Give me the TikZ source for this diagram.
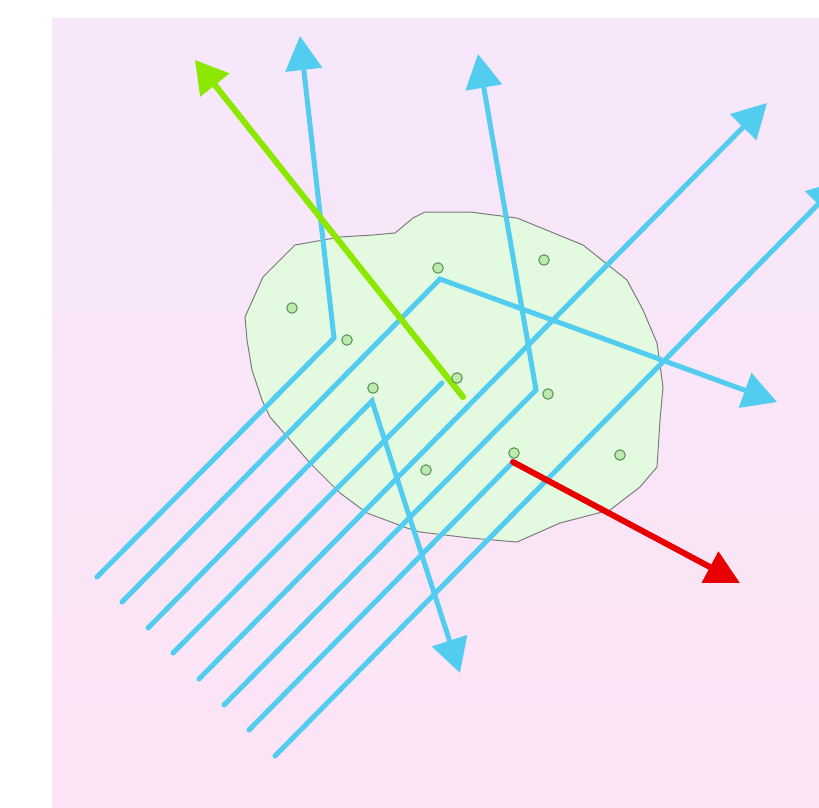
\documentclass[tikz,border=0pt]{standalone}
\usetikzlibrary{arrows.meta}
\definecolor{ray}{RGB}{82,205,240}
\definecolor{lime}{RGB}{140,232,0}
\definecolor{redray}{RGB}{232,0,0}
\definecolor{blobfill}{RGB}{228,250,224}
\definecolor{blobline}{RGB}{125,125,125}
\definecolor{bgtop}{RGB}{246,231,250}
\definecolor{bgbot}{RGB}{252,228,246}
\definecolor{dotfill}{RGB}{190,234,176}
\definecolor{dotline}{RGB}{80,145,80}
\begin{document}
\begin{tikzpicture}[x=1pt,y=-1pt,
  rayline/.style={draw=ray,line width=5pt,line cap=round},
  rayarrow/.style={rayline,-{Triangle[length=34pt,width=36pt]}},
  limearrow/.style={draw=lime,line width=6pt,line cap=round,-{Triangle[length=32pt,width=36pt]}},
  redarrow/.style={draw=redray,line width=6pt,line cap=round,-{Triangle[length=34pt,width=34pt]}},
  blob/.style={fill=blobfill,draw=blobline,line width=1pt},
  atom/.style={circle,draw=dotline,fill=dotfill,line width=1pt,minimum size=10.5pt,inner sep=0pt}]
\useasboundingbox (0,0) rectangle (819,807);
\fill[white] (0,0) rectangle (819,807);
\shade[top color=bgtop,bottom color=bgbot] (52,18) rectangle (819,807);
\begin{scope}
\clip (52,18) rectangle (819,807);
% scattering body
\path[blob] (425,212) -- (470,212) -- (517,218) -- (583,245) -- (627,280) -- (643,310)
  -- (657,343) -- (663,387) -- (660,420) -- (657,467) -- (640,487) -- (610,510)
  -- (560,523) -- (517,542) -- (470,538) -- (420,532) -- (407,528) -- (367,513)
  -- (340,493) -- (310,463) -- (290,440) -- (270,417) -- (262,400) -- (252,370)
  -- (247,340) -- (245,317) -- (263,277) -- (273,267) -- (295,245) -- (312,242)
  -- (340,237) -- (373,235) -- (395,233) -- (413,218) -- cycle;
% ray start points
\coordinate (s1) at (97,577);
\coordinate (s2) at (122,602);
\coordinate (s3) at (148,628);
\coordinate (s4) at (173,653);
\coordinate (s5) at (199,679);
\coordinate (s6) at (224,705);
\coordinate (s7) at (249,730);
\coordinate (s8) at (275,756);
% bend / end points
\coordinate (b1) at (334,338);
\coordinate (b2) at (440,279);
\coordinate (b3) at (372,401);
\coordinate (b4) at (442,383);
\coordinate (b6) at (536,390);
\coordinate (b7) at (513,462);
% arrow tips
\coordinate (t1) at (300,36);
\coordinate (t2) at (777,402);
\coordinate (t3) at (460,673);
\coordinate (t5) at (767,103);
\coordinate (t6) at (478,54);
\coordinate (t8) at (842,180);
\coordinate (g0) at (463,397);
\coordinate (gt) at (195,60);
\coordinate (rt) at (740,583);
% rays
\draw[rayarrow] (s1) -- (b1) -- (t1);
\draw[rayarrow] (s2) -- (b2) -- (t2);
\draw[rayarrow] (s3) -- (b3) -- (t3);
\draw[rayline] (s4) -- (b4);
\draw[rayarrow] (s5) -- (t5);
\draw[rayarrow] (s6) -- (b6) -- (t6);
\draw[rayline] (s7) -- (b7);
\draw[rayarrow] (s8) -- (t8);
\draw[limearrow] (g0) -- (gt);
\draw[redarrow] (b7) -- (rt);
\end{scope}
% scattering centres
\node[atom] (a1) at (292,308) {};
\node[atom] (a2) at (347,340) {};
\node[atom] (a3) at (438,268) {};
\node[atom] (a4) at (544,260) {};
\node[atom] (a5) at (373,388) {};
\node[atom] (a6) at (457,378) {};
\node[atom] (a7) at (548,394) {};
\node[atom] (a8) at (426,470) {};
\node[atom] (a9) at (514,453) {};
\node[atom] (a10) at (620,455) {};
\end{tikzpicture}
\end{document}
